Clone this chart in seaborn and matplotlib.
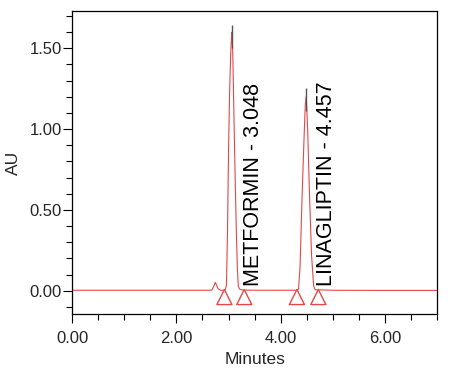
import numpy as np
import pandas as pd
import matplotlib
matplotlib.use("Agg")
import matplotlib.pyplot as plt
import seaborn as sns
from matplotlib.ticker import MultipleLocator, FormatStrFormatter

# ---- data ----
trace_time = [0.00, 1.00, 2.00, 2.60, 2.68, 2.72, 2.745, 2.77, 2.80, 2.84, 2.90, 2.94,
              2.96, 2.98, 3.00, 3.02, 3.04, 3.055, 3.065, 3.075, 3.085, 3.10, 3.115,
              3.13, 3.15, 3.17, 3.186, 3.21, 3.28, 3.60, 4.00, 4.30, 4.34, 4.37,
              4.41, 4.45, 4.47, 4.486, 4.50, 4.516, 4.55, 4.59, 4.63, 4.66, 5.00,
              6.00, 7.00]
trace_au = [0.003, 0.003, 0.003, 0.003, 0.004, 0.030, 0.052, 0.035, 0.012, 0.004, 0.003, 0.008,
            0.040, 0.380, 0.880, 1.230, 1.460, 1.560, 1.600, 1.520, 1.400, 1.130, 0.880,
            0.640, 0.350, 0.130, 0.030, 0.010, 0.004, 0.003, 0.003, 0.003, 0.010, 0.150,
            0.600, 0.980, 1.150, 1.200, 1.120, 0.990, 0.600, 0.220, 0.030, 0.006, 0.003,
            0.002, 0.002]

peak_names = ["METFORMIN - 3.048", "LINAGLIPTIN - 4.457"]
peak_apex_time = [3.065, 4.486]
peak_apex_au = [1.644, 1.252]
peak_red_top = [1.50, 1.11]
label_time = [3.47, 4.88]

marker_time = [2.92, 3.30, 4.31, 4.72]
marker_au = [-0.039, -0.039, -0.039, -0.039]

df = pd.DataFrame({"Minutes": trace_time, "AU": trace_au})
mk = pd.DataFrame({"Minutes": marker_time, "AU": marker_au})

sns.set_style("ticks")
plt.rcParams["font.family"] = ["Liberation Sans", "DejaVu Sans"]

fig = plt.figure(figsize=(4.64, 3.71), dpi=100)
ax = fig.add_axes([0.1552, 0.1536, 0.7873, 0.8159])

red = "#e54848"
sns.lineplot(data=df, x="Minutes", y="AU", ax=ax, color=red, linewidth=0.8,
             sort=False, estimator=None)
ax.vlines(peak_apex_time, peak_red_top, peak_apex_au, color="#555555", linewidth=1.0)

sns.scatterplot(data=mk, x="Minutes", y="AU", ax=ax, marker="^", s=15**2 * 0.52,
                facecolor="none", edgecolor=red, linewidth=1.0, zorder=3)

for name, t in zip(peak_names, label_time):
    ax.text(t, 0.03, name, rotation=90, ha="center", va="bottom",
            fontsize=15.5, color="black")

ax.set_xlim(0, 7.0)
ax.set_ylim(-0.144, 1.729)
ax.xaxis.set_major_locator(MultipleLocator(2.0))
ax.xaxis.set_minor_locator(MultipleLocator(0.5))
ax.yaxis.set_major_locator(MultipleLocator(0.5))
ax.yaxis.set_minor_locator(MultipleLocator(0.1))
ax.xaxis.set_major_formatter(FormatStrFormatter("%.2f"))
ax.yaxis.set_major_formatter(FormatStrFormatter("%.2f"))
ax.tick_params(axis="both", which="major", length=6.2, width=0.8, labelsize=12,
               direction="out", color="black")
ax.tick_params(axis="both", which="minor", length=4.0, width=0.8, direction="out",
               color="black")
ax.tick_params(axis="y", which="major", pad=1)
ax.tick_params(axis="x", which="major", pad=6)
for s in ax.spines.values():
    s.set_visible(True)
    s.set_color("black")
    s.set_linewidth(0.9)

ax.set_xlabel("Minutes", fontsize=12.5, labelpad=4)
ax.set_ylabel("AU", fontsize=12.5, labelpad=6)

fig.savefig("out.png", dpi=100)
